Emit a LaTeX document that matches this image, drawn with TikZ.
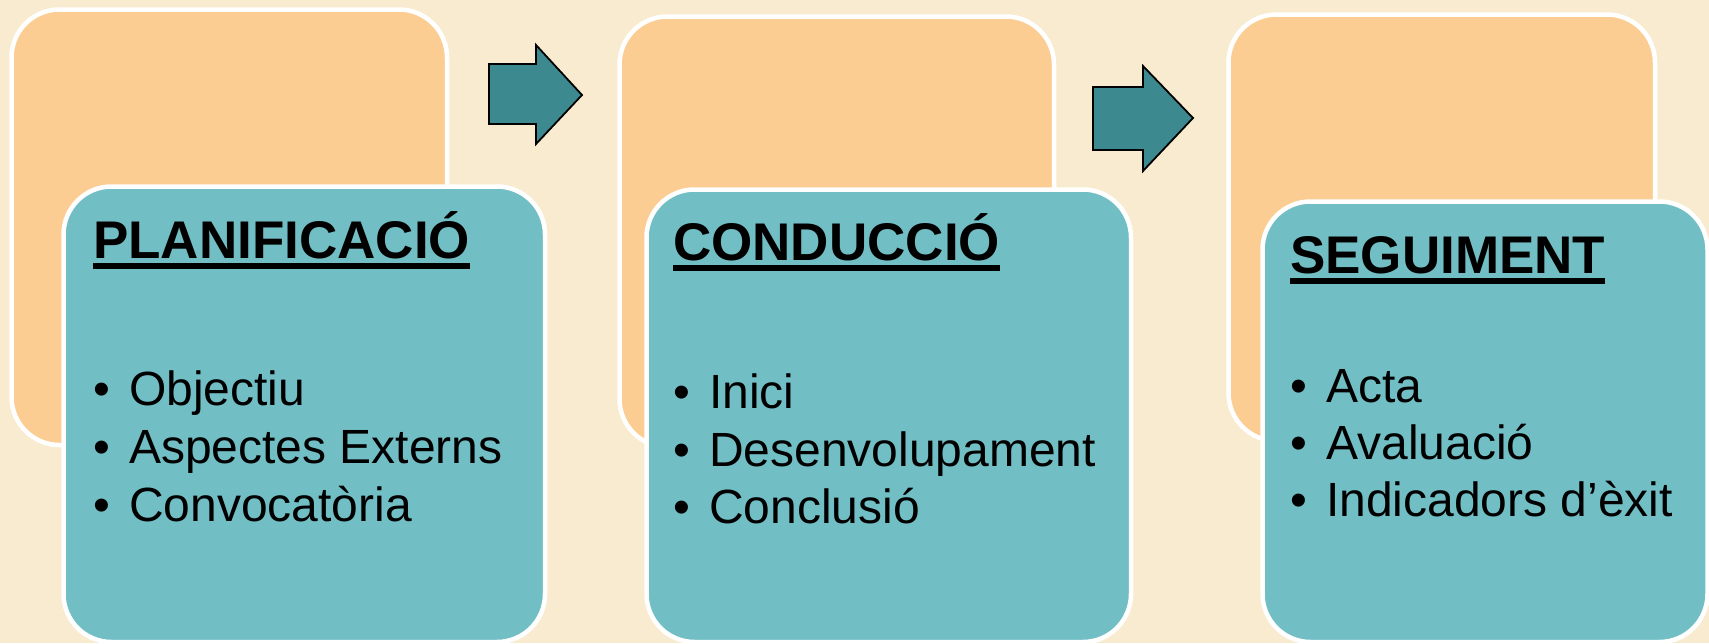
\documentclass[tikz,border=0pt]{standalone}
\usepackage{fontspec}
\setmainfont{Liberation Sans}
\definecolor{bg}{HTML}{F9EBCF}
\definecolor{peach}{HTML}{FCCD92}
\definecolor{tealbox}{HTML}{72BEC5}
\definecolor{tealarrow}{HTML}{3C8A90}
\tikzset{
  panel/.style={draw=white, line width=4.5pt, rounded corners=48pt, rectangle, inner sep=0pt, anchor=north west},
  back/.style={panel, fill=peach},
  front/.style={panel, fill=tealbox},
  blockarrow/.style={draw=black, line width=1.8pt, fill=tealarrow, line join=miter},
  heading/.style={anchor=base west, inner sep=0pt, font=\fontsize{53}{60}\selectfont\bfseries},
  item/.style={anchor=base west, inner sep=0pt, font=\fontsize{48}{56}\selectfont},
  uline/.style={line width=5.5pt}
}
\newcommand{\bul}[1]{\makebox[36pt][l]{•}#1}
\begin{document}
\begin{tikzpicture}[x=1pt,y=-1pt]
\fill[bg] (0,0) rectangle (1709,643);
\useasboundingbox (0,0) rectangle (1709,643);
% panel 1
\node[back, minimum width=435.5pt, minimum height=435.5pt] (o1) at (9.25,7.25) {};
\node[front, minimum width=481.5pt, minimum height=455.5pt] (t1) at (61.25,184.25) {};
\node[heading] (h1) at (93,258) {PLANIFICACIÓ};
\draw[uline] ([yshift=-8pt]h1.base west) -- ([yshift=-8pt]h1.base east);
\node[item] (i1a) at (93,405) {\bul{Objectiu}};
\node[item] (i1b) at (93,463) {\bul{Aspectes Externs}};
\node[item] (i1c) at (93,521) {\bul{Convocatòria}};
% arrow 1
\coordinate (a1) at (489,64);
\draw[blockarrow] (a1) -- (536,64) -- (536,45) -- (582,95) -- (536,144) -- (536,124) -- (489,124) -- cycle;
% panel 2
\node[back, minimum width=434.5pt, minimum height=430.5pt] (o2) at (617.25,14.25) {};
\node[front, minimum width=484.5pt, minimum height=452.5pt] (t2) at (644.25,187.25) {};
\node[heading] (h2) at (673,260) {CONDUCCIÓ};
\draw[uline] ([yshift=-8pt]h2.base west) -- ([yshift=-8pt]h2.base east);
\node[item] (i2a) at (673,408) {\bul{Inici}};
\node[item] (i2b) at (673,466) {\bul{Desenvolupament}};
\node[item] (i2c) at (673,523) {\bul{Conclusió}};
% arrow 2
\coordinate (a2) at (1093,87);
\draw[blockarrow] (a2) -- (1143,87) -- (1143,66) -- (1193,118) -- (1143,171) -- (1143,150) -- (1093,150) -- cycle;
% panel 3
\node[back, minimum width=426.5pt, minimum height=426.5pt] (o3) at (1226.25,12.25) {};
\node[front, minimum width=445pt, minimum height=440.5pt] (t3) at (1260.25,199.25) {};
\node[heading] (h3) at (1290,273) {SEGUIMENT};
\draw[uline] ([yshift=-8pt]h3.base west) -- ([yshift=-8pt]h3.base east);
\node[item] (i3a) at (1290,402) {\bul{Acta}};
\node[item] (i3b) at (1290,459) {\bul{Avaluació}};
\node[item] (i3c) at (1290,516) {\bul{Indicadors d’èxit}};
\end{tikzpicture}
\end{document}
